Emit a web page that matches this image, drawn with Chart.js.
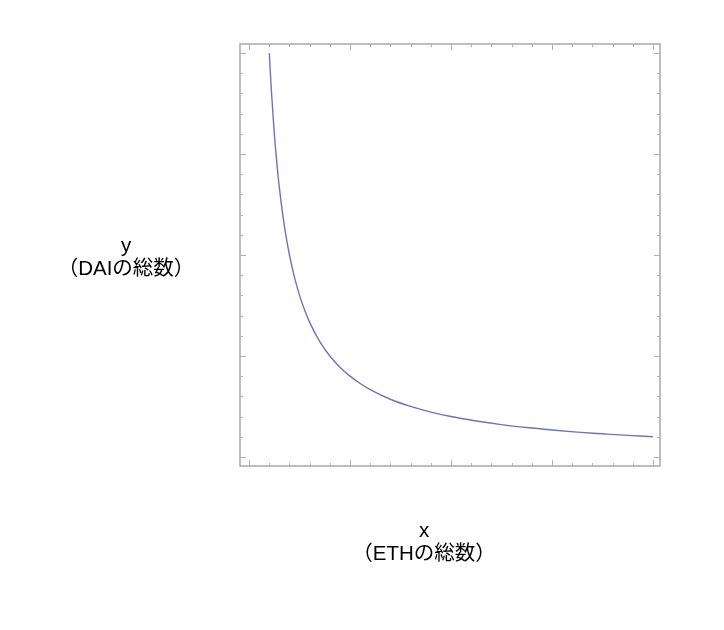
<!DOCTYPE html>
<html>
<head>
<meta charset="utf-8">
<script src="https://cdn.jsdelivr.net/npm/chart.js@4"></script>
<style>
    body { margin: 0; background: #fff; }
    #wrap { position: relative; width: 724px; height: 630px; }
    .lbl {
        position: absolute;
        font-family: "Liberation Sans", "Noto Sans CJK JP", sans-serif;
        font-size: 20.5px;
        color: #000;
        text-align: center;
        line-height: 23px;
        white-space: nowrap;
    }
</style>
</head>
<body>
<div id="wrap">
    <canvas id="chart" width="724" height="630"></canvas>
    <div class="lbl" style="left:26px; top:233px; width:200px;">y<br>（DAIの総数）</div>
    <div class="lbl" style="left:324px; top:518px; width:200px;">x<br>（ETHの総数）</div>
</div>
<script>
// Curve values (x = ETH, y = DAI)
const ethValues = [0.2, 0.22, 0.25, 0.28, 0.3, 0.33, 0.36, 0.4, 0.45, 0.5, 0.55, 0.6, 0.7, 0.8, 0.9, 1.0, 1.1, 1.2, 1.4, 1.6, 1.8, 2.0, 2.25, 2.5, 2.75, 3.0, 3.25, 3.5, 3.75, 4.0];
const daiValues = [4.0, 3.64, 3.2, 2.857, 2.667, 2.424, 2.222, 2.0, 1.778, 1.6, 1.455, 1.333, 1.143, 1.0, 0.889, 0.8, 0.727, 0.667, 0.571, 0.5, 0.444, 0.4, 0.356, 0.32, 0.291, 0.267, 0.246, 0.229, 0.213, 0.2];

// Tick positions (no labels in the picture)
const minorTicks = [0, 0.2, 0.4, 0.6, 0.8, 1, 1.2, 1.4, 1.6, 1.8, 2, 2.2, 2.4, 2.6, 2.8, 3, 3.2, 3.4, 3.6, 3.8, 4];
const majorTicks = [0, 1, 2, 3, 4];

// Frame with inward ticks on all four sides
const framePlugin = {
    id: 'frame',
    afterDatasetsDraw(chart) {
        const ctx = chart.ctx;
        const area = chart.chartArea;
        const xs = chart.scales.x;
        const ys = chart.scales.y;
        ctx.save();
        ctx.strokeStyle = '#a8a8a8';
        ctx.lineWidth = 1.5;
        ctx.strokeRect(area.left, area.top, area.right - area.left, area.bottom - area.top);
        ctx.lineWidth = 1;
        ctx.strokeStyle = '#b0b0b0';
        minorTicks.forEach(function(v) {
            const len = majorTicks.includes(v) ? 6 : 3;
            const px = Math.round(xs.getPixelForValue(v)) + 0.5;
            const py = Math.round(ys.getPixelForValue(v)) + 0.5;
            ctx.beginPath();
            ctx.moveTo(px, area.bottom); ctx.lineTo(px, area.bottom - len);
            ctx.moveTo(px, area.top); ctx.lineTo(px, area.top + len);
            ctx.moveTo(area.left, py); ctx.lineTo(area.left + len, py);
            ctx.moveTo(area.right, py); ctx.lineTo(area.right - len, py);
            ctx.stroke();
        });
        ctx.restore();
    }
};

const ctx = document.getElementById('chart').getContext('2d');
new Chart(ctx, {
    type: 'line',
    data: {
        datasets: [{
            data: ethValues.map((x, i) => ({ x: x, y: daiValues[i] })),
            borderColor: '#7070c6',
            borderWidth: 1.4,
            pointRadius: 0,
            fill: false,
            cubicInterpolationMode: 'monotone'
        }]
    },
    options: {
        responsive: false,
        animation: false,
        layout: {
            padding: { left: 240, top: 44, right: 64, bottom: 164 }
        },
        plugins: {
            legend: { display: false },
            tooltip: { enabled: false }
        },
        scales: {
            x: { type: 'linear', display: false, min: -0.09, max: 4.07 },
            y: { type: 'linear', display: false, min: -0.09, max: 4.09 }
        }
    },
    plugins: [framePlugin]
});
</script>
</body>
</html>
